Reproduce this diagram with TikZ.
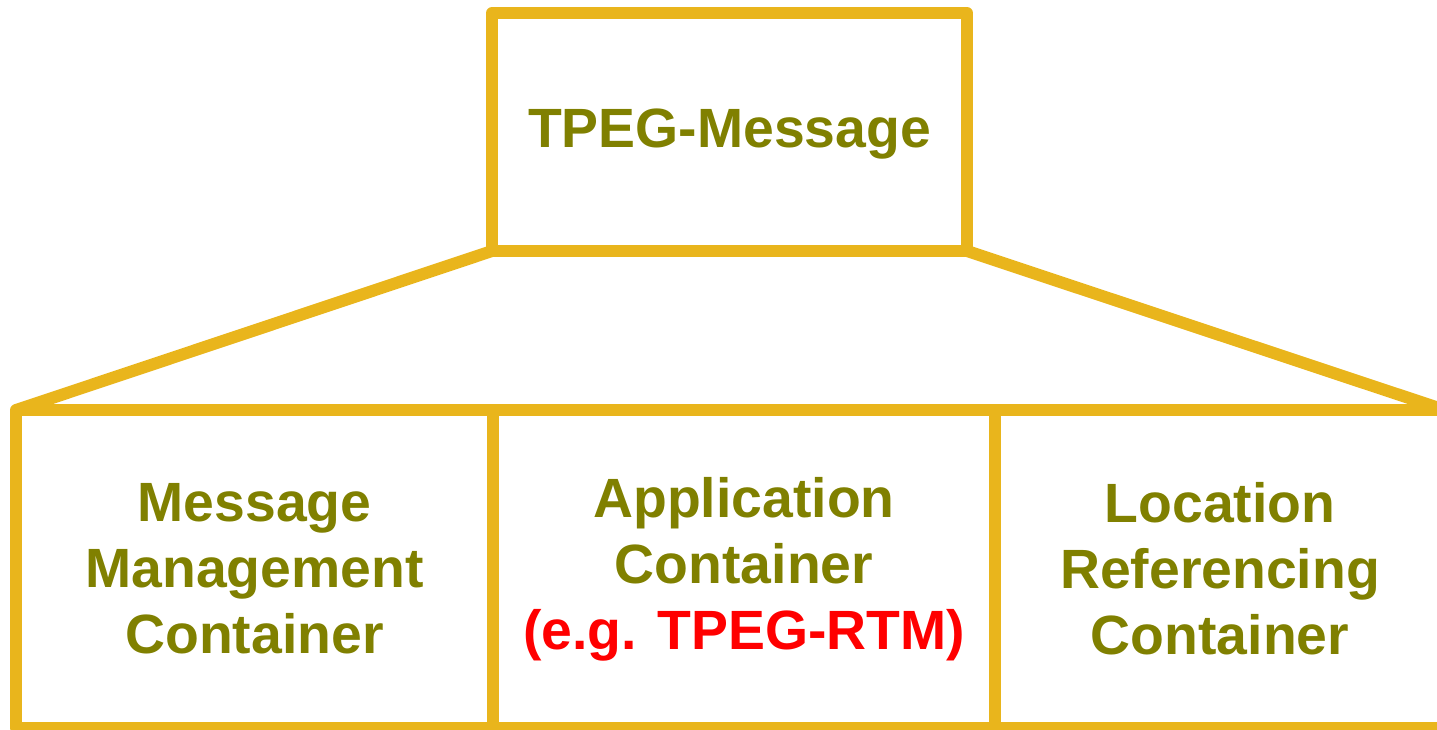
\documentclass[tikz,border=0pt]{standalone}
\usepackage{fontspec}
\setmainfont{Liberation Sans}
\usepackage{tikz}

\definecolor{edgegold}{RGB}{233,181,28}
\definecolor{textolive}{RGB}{128,128,0}

\begin{document}
\begin{tikzpicture}[x=0.02cm, y=-0.02cm,
	box/.style={draw=edgegold, line width=0.24cm, line join=round, inner sep=0pt, outer sep=0pt,
		text=textolive, align=center, font=\fontsize{31.5pt}{37.5pt}\bfseries\selectfont},
	cell/.style={box, minimum height=6.36cm}]
\useasboundingbox (0,0) rectangle (1437,730);
\clip (0,0) rectangle (1437,730);
\node[box, minimum width=9.5cm, minimum height=4.76cm] (msg) at (729.5,132) {};
\node[text=textolive, font=\fontsize{31.5pt}{37.5pt}\bfseries\selectfont] (title) at (729.5,134) {TPEG-Message};
\node[cell, minimum width=9.54cm] (mmc) at (254.5,569) {Message\\Management\\Container};
\node[cell, minimum width=10.04cm] (app) at (744,569) {Application\\Container\\\textcolor{red}{(e.g. TPEG-RTM)}};
\node[cell, minimum width=9cm] (loc) at (1220,569) {Location\\Referencing\\Container};
\draw[edgegold, line width=0.24cm, line join=round] (msg.south west) -- (mmc.north west);
\draw[edgegold, line width=0.24cm, line join=round] (msg.south east) -- (loc.north east);
\end{tikzpicture}
\end{document}
